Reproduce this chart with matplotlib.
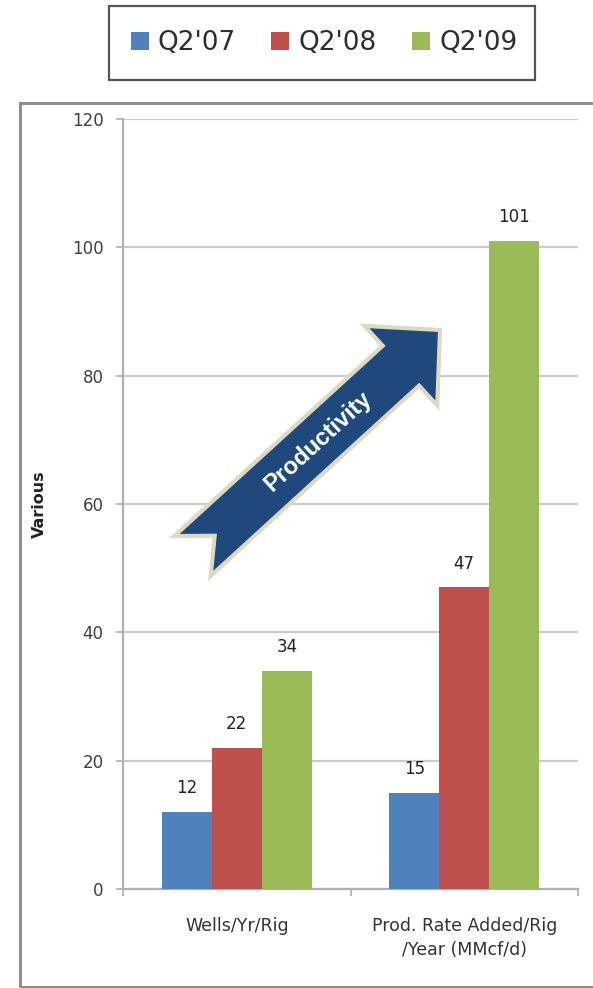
import numpy as np
import matplotlib
matplotlib.use("Agg")
import matplotlib.pyplot as plt
from matplotlib.patches import Rectangle, Polygon, Patch
from matplotlib.transforms import IdentityTransform

# ---- data ----
categories = ["Wells/Yr/Rig", "Prod. Rate Added/Rig\n/Year (MMcf/d)"]
series_names = ["Q2'07", "Q2'08", "Q2'09"]
q2_07 = [12, 15]
q2_08 = [22, 47]
q2_09 = [34, 101]
y_ticks = [0, 20, 40, 60, 80, 100, 120]
y_label = "Various"
arrow_label = "Productivity"

colors = ["#4F81BD", "#C0504D", "#9BBB59"]

W, H = 593, 988
fig = plt.figure(figsize=(W / 100, H / 100), dpi=100)
fig.patch.set_facecolor("white")


def fx(px):
    return px / W


def fy(py):
    return 1 - py / H


# outer chart frame
fig.patches.append(Rectangle((fx(20), fy(987)), fx(600) - fx(20), fy(103) - fy(987),
                             transform=fig.transFigure, fill=False,
                             edgecolor="#8E8E8E", linewidth=2.2, zorder=0))

ax = fig.add_axes([fx(123), fy(889), fx(578) - fx(123), fy(119) - fy(889)])
ax.set_facecolor("white")

x = np.arange(len(categories))
bw = 0.22
all_series = [q2_07, q2_08, q2_09]
for i, (vals, col) in enumerate(zip(all_series, colors)):
    xs = x + (i - 1) * bw
    bars = ax.bar(xs, vals, width=bw, color=col, edgecolor="none", zorder=3)
    for rect, v in zip(bars, vals):
        ax.annotate(f"{v}", (rect.get_x() + rect.get_width() / 2, v),
                    xytext=(0, 17), textcoords="offset points",
                    ha="center", va="center", fontsize=12, color="#222222")

ax.set_xlim(-0.5, len(categories) - 0.5)
ax.set_ylim(0, 120)
ax.set_yticks(y_ticks)
ax.set_yticklabels([str(t) for t in y_ticks], fontsize=12, color="#404040")
ax.yaxis.grid(True, color="#CBCBCB", linewidth=1.6, zorder=0)
ax.set_axisbelow(True)

# category boundaries as major ticks, names as minor ticks
ax.set_xticks(np.arange(-0.5, len(categories), 1.0))
ax.set_xticklabels([])
ax.set_xticks(x, minor=True)
ax.set_xticklabels(categories, minor=True, fontsize=12.5, color="#333333",
                   linespacing=1.45)
ax.tick_params(axis="x", which="minor", length=0, pad=20)
ax.tick_params(axis="x", which="major", length=5, width=1.2, color="#ADADAD",
               direction="out")
ax.tick_params(axis="y", length=5, width=1.2, color="#ADADAD", pad=9)

for side in ["top", "right"]:
    ax.spines[side].set_visible(False)
for side in ["left", "bottom"]:
    ax.spines[side].set_color("#B0B0B0")
    ax.spines[side].set_linewidth(1.6)

ax.set_ylabel(y_label, fontsize=11.5, fontweight="bold", color="#222222")
ax.yaxis.set_label_coords(-0.167, 0.5)

# legend with its own box
fig.patches.append(Rectangle((fx(109), fy(80)), fx(535) - fx(109), fy(6) - fy(80),
                             transform=fig.transFigure, fill=False,
                             edgecolor="#555555", linewidth=1.6, zorder=5))
handles = [Patch(facecolor=c, edgecolor="none") for c in colors]
leg = fig.legend(handles, series_names, loc="center",
                 bbox_to_anchor=(fx(324), fy(43)), ncol=3, frameon=False,
                 fontsize=19, handlelength=0.68, handleheight=0.68,
                 handletextpad=0.34, columnspacing=1.35, borderaxespad=0)
for t in leg.get_texts():
    t.set_color("#2E2E2E")

# "Productivity" arrow, built in pixel space along its centre line
fig.canvas.draw()


def to_disp(px, py):
    return np.array([px, H - py])


tail = to_disp(192.5, 556)
tip = to_disp(440, 330)
d = tip - tail
L = np.hypot(*d)
u = d / L
n = np.array([-u[1], u[0]])
half_w = 27
head_half = 54
head_len = 53
notch = 30
base = tail + u * (L - head_len)
pts = [
    tail + n * half_w,
    base + n * half_w,
    base + n * head_half,
    tip,
    base - n * head_half,
    base - n * half_w,
    tail - n * half_w,
    tail + u * notch,
]
arrow = Polygon(pts, closed=True, transform=IdentityTransform(),
                facecolor="#1F497D", edgecolor="#DDD9C3", linewidth=3,
                joinstyle="miter", zorder=10)
fig.patches.append(arrow)
mid = tail + u * 170
angle = np.degrees(np.arctan2(u[1], u[0]))
fig.text(mid[0] / W, mid[1] / H, arrow_label, rotation=angle,
         rotation_mode="anchor", ha="center", va="center",
         fontsize=17, fontweight="bold", color="white",
         family="Liberation Sans", zorder=11)

fig.savefig("out.png", dpi=100, facecolor="white")
